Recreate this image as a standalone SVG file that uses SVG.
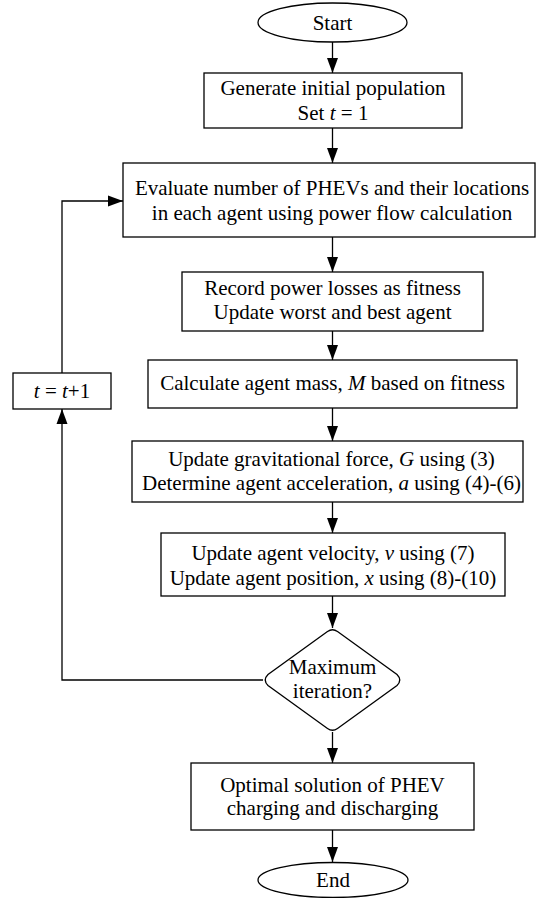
<svg xmlns="http://www.w3.org/2000/svg" width="536" height="898" viewBox="0 0 536 898">
  <style>
    .shape { fill: #ffffff; stroke: #000000; stroke-width: 1.3; }
    .wire { fill: none; stroke: #000000; stroke-width: 1.3; }
    .label { font-family: "Liberation Serif", "Times New Roman", serif; font-size: 21px; fill: #000000; text-anchor: middle; }
    .it { font-style: italic; }
  </style>
  <defs>
    <marker id="arrow" markerUnits="userSpaceOnUse" markerWidth="16" markerHeight="12" refX="15" refY="6" orient="auto">
      <path d="M0,0.5 L15,6 L0,11.5 Z" fill="#000000"/>
    </marker>
  </defs>

  <rect width="536" height="898" fill="#ffffff"/>

  <!-- connectors -->
  <g id="connectors">
    <line class="wire" x1="332.5" y1="42" x2="332.5" y2="73" marker-end="url(#arrow)"/>
    <line class="wire" x1="332.5" y1="128" x2="332.5" y2="163" marker-end="url(#arrow)"/>
    <line class="wire" x1="332.5" y1="237" x2="332.5" y2="272" marker-end="url(#arrow)"/>
    <line class="wire" x1="332.5" y1="331" x2="332.5" y2="360" marker-end="url(#arrow)"/>
    <line class="wire" x1="332.5" y1="408" x2="332.5" y2="441" marker-end="url(#arrow)"/>
    <line class="wire" x1="332.5" y1="502" x2="332.5" y2="533" marker-end="url(#arrow)"/>
    <line class="wire" x1="332.5" y1="596" x2="332.5" y2="628" marker-end="url(#arrow)"/>
    <line class="wire" x1="332.5" y1="732" x2="332.5" y2="763" marker-end="url(#arrow)"/>
    <line class="wire" x1="332.5" y1="830" x2="332.5" y2="862" marker-end="url(#arrow)"/>
    <!-- loop back: decision "no" branch to the counter box -->
    <polyline class="wire" points="263,680 62,680 62,409" marker-end="url(#arrow)"/>
    <!-- counter box back to evaluation -->
    <polyline class="wire" points="62,373 62,201 123,201" marker-end="url(#arrow)"/>
  </g>

  <g id="start">
    <ellipse class="shape" cx="332.5" cy="22.5" rx="74.5" ry="19.5"/>
    <text class="label" x="332.5" y="30">Start</text>
  </g>

  <g id="init">
    <rect class="shape" x="204" y="73" width="258" height="55"/>
    <text class="label" x="333" y="95">Generate initial population</text>
    <text class="label" x="333" y="120">Set <tspan class="it">t</tspan> = 1</text>
  </g>

  <g id="evaluate">
    <rect class="shape" x="123" y="163" width="412" height="74"/>
    <text class="label" x="332" y="195">Evaluate number of PHEVs and their locations</text>
    <text class="label" x="332" y="220">in each agent using power flow calculation</text>
  </g>

  <g id="fitness">
    <rect class="shape" x="182" y="272" width="301" height="59"/>
    <text class="label" x="332.5" y="295">Record power losses as fitness</text>
    <text class="label" x="332.5" y="319">Update worst and best agent</text>
  </g>

  <g id="mass">
    <rect class="shape" x="148" y="360" width="369" height="48"/>
    <text class="label" x="332.5" y="390">Calculate agent mass, <tspan class="it">M</tspan> based on fitness</text>
  </g>

  <g id="force">
    <rect class="shape" x="132" y="441" width="391" height="61"/>
    <text class="label" x="331.5" y="466">Update gravitational force, <tspan class="it">G</tspan> using (3)</text>
    <text class="label" x="331.5" y="490">Determine agent acceleration, <tspan class="it">a</tspan> using (4)-(6)</text>
  </g>

  <g id="velocity">
    <rect class="shape" x="161" y="533" width="344" height="63"/>
    <text class="label" x="333" y="560">Update agent velocity, <tspan class="it">v</tspan> using (7)</text>
    <text class="label" x="333" y="585">Update agent position, <tspan class="it">x</tspan> using (8)-(10)</text>
  </g>

  <g id="decision">
    <path class="shape" d="M327.5,631.5 Q332.5,628 337.5,631.5 L397,674.5 Q402.5,680 397,685.5 L337.5,728.5 Q332.5,732 327.5,728.5 L268,685.5 Q262.5,680 268,674.5 Z"/>
    <text class="label" x="332.5" y="674">Maximum</text>
    <text class="label" x="332.5" y="698">iteration?</text>
  </g>

  <g id="counter">
    <rect class="shape" x="13" y="373" width="98" height="36"/>
    <text class="label" x="62" y="398"><tspan class="it">t</tspan> = <tspan class="it">t</tspan>+1</text>
  </g>

  <g id="result">
    <rect class="shape" x="191" y="763" width="283" height="67"/>
    <text class="label" x="332.5" y="792">Optimal solution of PHEV</text>
    <text class="label" x="332.5" y="815">charging and discharging</text>
  </g>

  <g id="end">
    <ellipse class="shape" cx="333" cy="880" rx="75" ry="17.5"/>
    <text class="label" x="333" y="887">End</text>
  </g>
</svg>
